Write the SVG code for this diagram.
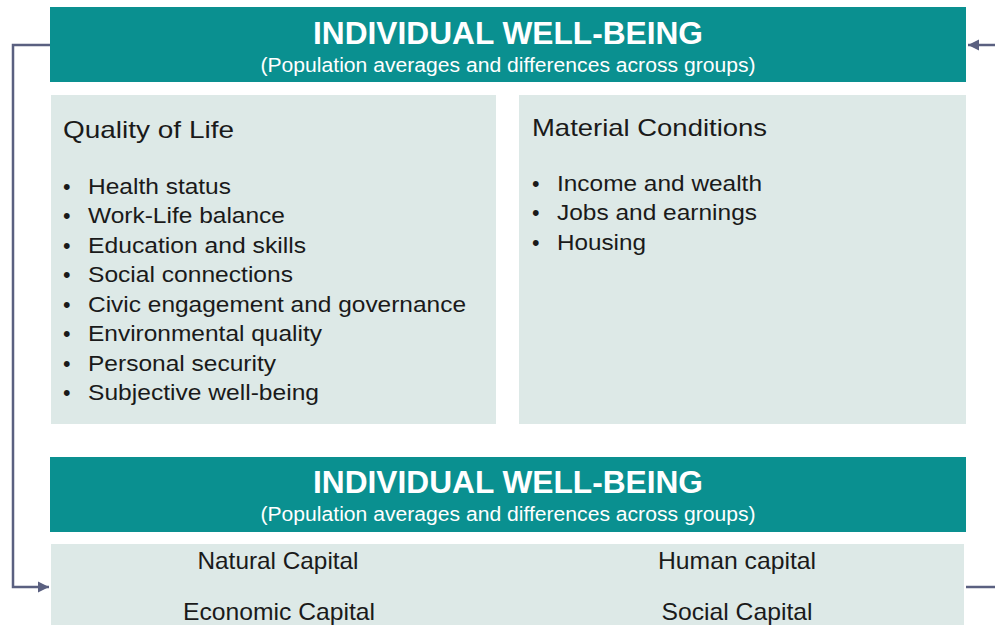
<svg xmlns="http://www.w3.org/2000/svg" width="995" height="625" viewBox="0 0 995 625">
<style>
.banner{fill:#0a9090}
.panel{fill:#dde9e7}
.title{font-family:"Liberation Sans",Arial,sans-serif;font-weight:bold;font-size:31px;fill:#ffffff;text-anchor:middle}
.sub{font-family:"Liberation Sans",Arial,sans-serif;font-size:20px;fill:#ffffff;text-anchor:middle}
.head{font-family:"Liberation Sans",Arial,sans-serif;font-size:24px;fill:#1a1a1a}
.item{font-family:"Liberation Sans",Arial,sans-serif;font-size:21.5px;fill:#1a1a1a}
.cap{font-family:"Liberation Sans",Arial,sans-serif;font-size:24px;fill:#1a1a1a;text-anchor:middle}
.conn{fill:none;stroke:#5a6080;stroke-width:2.5}
</style>
<defs>
<marker id="arr" viewBox="0 0 10 10" refX="10" refY="5" markerWidth="4.5" markerHeight="4.5" orient="auto" markerUnits="strokeWidth">
<path d="M0,0 L10,5 L0,10 z" fill="#5a6080"/>
</marker>
</defs>
<rect width="995" height="625" fill="#ffffff"/>
<g id="connectors">
<path class="conn" d="M50,45 H13 V587 H49" marker-end="url(#arr)"/>
<path class="conn" d="M995,45 H968" marker-end="url(#arr)"/>
<path class="conn" d="M966,587 H995"/>
</g>
<g id="top-banner">
<rect class="banner" x="50" y="7" width="916" height="75"/>
<text class="title" x="508" y="44" textLength="390" lengthAdjust="spacingAndGlyphs">INDIVIDUAL WELL-BEING</text>
<text class="sub" x="508" y="72" textLength="495" lengthAdjust="spacingAndGlyphs">(Population averages and differences across groups)</text>
</g>
<g id="quality-of-life">
<rect class="panel" x="51" y="95" width="445" height="329"/>
<text class="head" x="63" y="138" textLength="171" lengthAdjust="spacingAndGlyphs">Quality of Life</text>
<g class="item">
<text x="63" y="194">•</text><text x="88" y="194" textLength="143" lengthAdjust="spacingAndGlyphs">Health status</text>
<text x="63" y="223">•</text><text x="88" y="223" textLength="197" lengthAdjust="spacingAndGlyphs">Work-Life balance</text>
<text x="63" y="253">•</text><text x="88" y="253" textLength="218" lengthAdjust="spacingAndGlyphs">Education and skills</text>
<text x="63" y="282">•</text><text x="88" y="282" textLength="205" lengthAdjust="spacingAndGlyphs">Social connections</text>
<text x="63" y="312">•</text><text x="88" y="312" textLength="378" lengthAdjust="spacingAndGlyphs">Civic engagement and governance</text>
<text x="63" y="341">•</text><text x="88" y="341" textLength="234" lengthAdjust="spacingAndGlyphs">Environmental quality</text>
<text x="63" y="371">•</text><text x="88" y="371" textLength="188" lengthAdjust="spacingAndGlyphs">Personal security</text>
<text x="63" y="400">•</text><text x="88" y="400" textLength="231" lengthAdjust="spacingAndGlyphs">Subjective well-being</text>
</g>
</g>
<g id="material-conditions">
<rect class="panel" x="519" y="95" width="447" height="329"/>
<text class="head" x="532" y="136" textLength="235" lengthAdjust="spacingAndGlyphs">Material  Conditions</text>
<g class="item">
<text x="532" y="191">•</text><text x="557" y="191" textLength="205" lengthAdjust="spacingAndGlyphs">Income and wealth</text>
<text x="532" y="220">•</text><text x="557" y="220" textLength="200" lengthAdjust="spacingAndGlyphs">Jobs and earnings</text>
<text x="532" y="250">•</text><text x="557" y="250" textLength="89" lengthAdjust="spacingAndGlyphs">Housing</text>
</g>
</g>
<g id="bottom-banner">
<rect class="banner" x="50" y="457" width="916" height="75"/>
<text class="title" x="508" y="493" textLength="390" lengthAdjust="spacingAndGlyphs">INDIVIDUAL WELL-BEING</text>
<text class="sub" x="508" y="521" textLength="495" lengthAdjust="spacingAndGlyphs">(Population averages and differences across groups)</text>
</g>
<g id="capitals">
<rect class="panel" x="51" y="544" width="913" height="81"/>
<text class="cap" x="278" y="569" textLength="161" lengthAdjust="spacingAndGlyphs">Natural Capital</text>
<text class="cap" x="737" y="569" textLength="158" lengthAdjust="spacingAndGlyphs">Human capital</text>
<text class="cap" x="279" y="620" textLength="192" lengthAdjust="spacingAndGlyphs">Economic Capital</text>
<text class="cap" x="737" y="620" textLength="151" lengthAdjust="spacingAndGlyphs">Social Capital</text>
</g>
</svg>
